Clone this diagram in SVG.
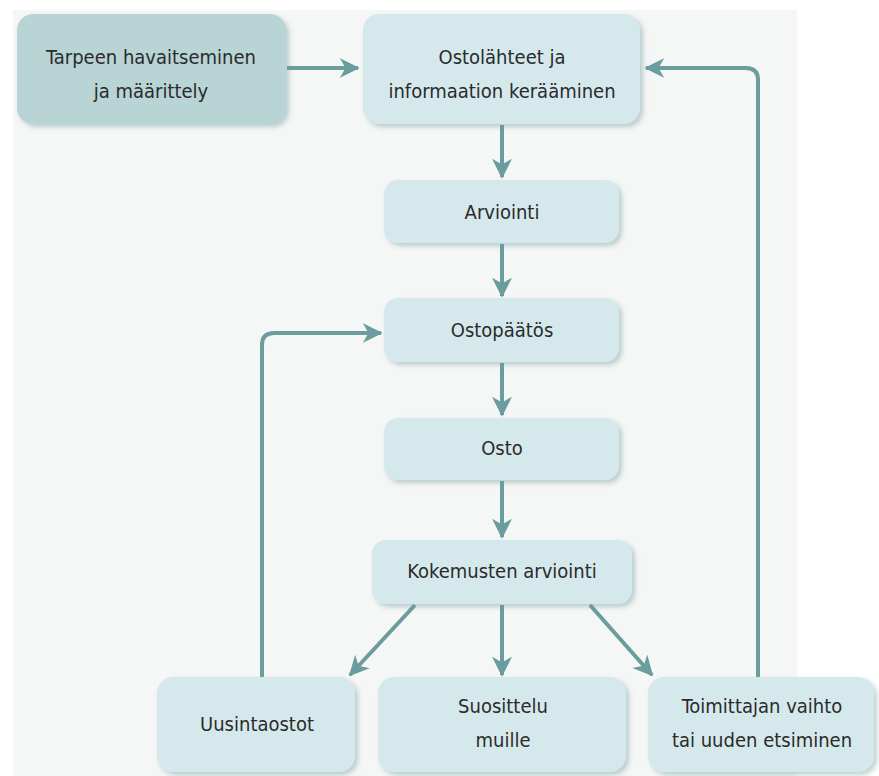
<svg xmlns="http://www.w3.org/2000/svg" width="879" height="776" viewBox="0 0 879 776">
<defs>
<filter id="sh" x="-10%" y="-10%" width="130%" height="140%">
<feGaussianBlur in="SourceAlpha" stdDeviation="2.5"/>
<feOffset dx="3" dy="3" result="b"/>
<feFlood flood-color="#6f9a9c" flood-opacity="0.45"/>
<feComposite in2="b" operator="in"/>
<feMerge><feMergeNode/><feMergeNode in="SourceGraphic"/></feMerge>
</filter>
<marker id="ah" viewBox="0 0 12 12" refX="11" refY="6" markerWidth="5" markerHeight="5" orient="auto" markerUnits="strokeWidth">
<path d="M0,0 L12,6 L0,12 L3.5,6 Z" fill="#6b9c9e"/>
</marker>
</defs>
<style>
.n{fill:#d5e9ec;filter:url(#sh)}
.d{fill:#b8d4d5;filter:url(#sh)}
.t{font-family:"DejaVu Sans Condensed","DejaVu Sans",sans-serif;font-stretch:condensed;font-size:20px;fill:#2b2b2b;text-anchor:middle}
.c{fill:none;stroke:#6b9c9e;stroke-width:4;stroke-linejoin:round}
</style>
<rect width="879" height="776" fill="#ffffff"/>
<rect x="13" y="10" width="784" height="766" fill="#f5f6f6"/>
<g id="connectors">
<path class="c" d="M287,68 L358,68" marker-end="url(#ah)"/>
<path class="c" d="M758,678 L758,80 Q758,68 746,68 L646,68" marker-end="url(#ah)"/>
<path class="c" d="M262,678 L262,345 Q262,333 274,333 L381,333" marker-end="url(#ah)"/>
<path class="c" d="M502,125 L502,177" marker-end="url(#ah)"/>
<path class="c" d="M502,244 L502,296" marker-end="url(#ah)"/>
<path class="c" d="M502,363 L502,415" marker-end="url(#ah)"/>
<path class="c" d="M502,481 L502,537" marker-end="url(#ah)"/>
<path class="c" d="M502,605 L502,675" marker-end="url(#ah)"/>
<path class="c" d="M415,605 L350,675" marker-end="url(#ah)"/>
<path class="c" d="M590,605 L652,675" marker-end="url(#ah)"/>
</g>
<g id="n1"><rect class="d" x="17" y="14" width="269" height="110" rx="16"/>
<text class="t" x="151" y="64">Tarpeen havaitseminen</text><text class="t" x="151" y="98">ja määrittely</text></g>
<g id="n2"><rect class="n" x="363" y="14" width="277" height="110" rx="16"/>
<text class="t" x="502" y="64">Ostolähteet ja</text><text class="t" x="502" y="98">informaation kerääminen</text></g>
<g id="n3"><rect class="n" x="384" y="180" width="235" height="63" rx="14"/>
<text class="t" x="502" y="219">Arviointi</text></g>
<g id="n4"><rect class="n" x="384" y="298" width="235" height="64" rx="14"/>
<text class="t" x="502" y="337">Ostopäätös</text></g>
<g id="n5"><rect class="n" x="384" y="418" width="235" height="62" rx="14"/>
<text class="t" x="502" y="455">Osto</text></g>
<g id="n6"><rect class="n" x="372" y="540" width="260" height="64" rx="14"/>
<text class="t" x="502" y="578">Kokemusten arviointi</text></g>
<g id="n7"><rect class="n" x="157" y="677" width="198" height="95" rx="16"/>
<text class="t" x="257" y="731">Uusintaostot</text></g>
<g id="n8"><rect class="n" x="378" y="677" width="248" height="95" rx="16"/>
<text class="t" x="503" y="713">Suosittelu</text><text class="t" x="503" y="747">muille</text></g>
<g id="n9"><rect class="n" x="648" y="677" width="226" height="95" rx="16"/>
<text class="t" x="762" y="713">Toimittajan vaihto</text><text class="t" x="762" y="747">tai uuden etsiminen</text></g>
</svg>
